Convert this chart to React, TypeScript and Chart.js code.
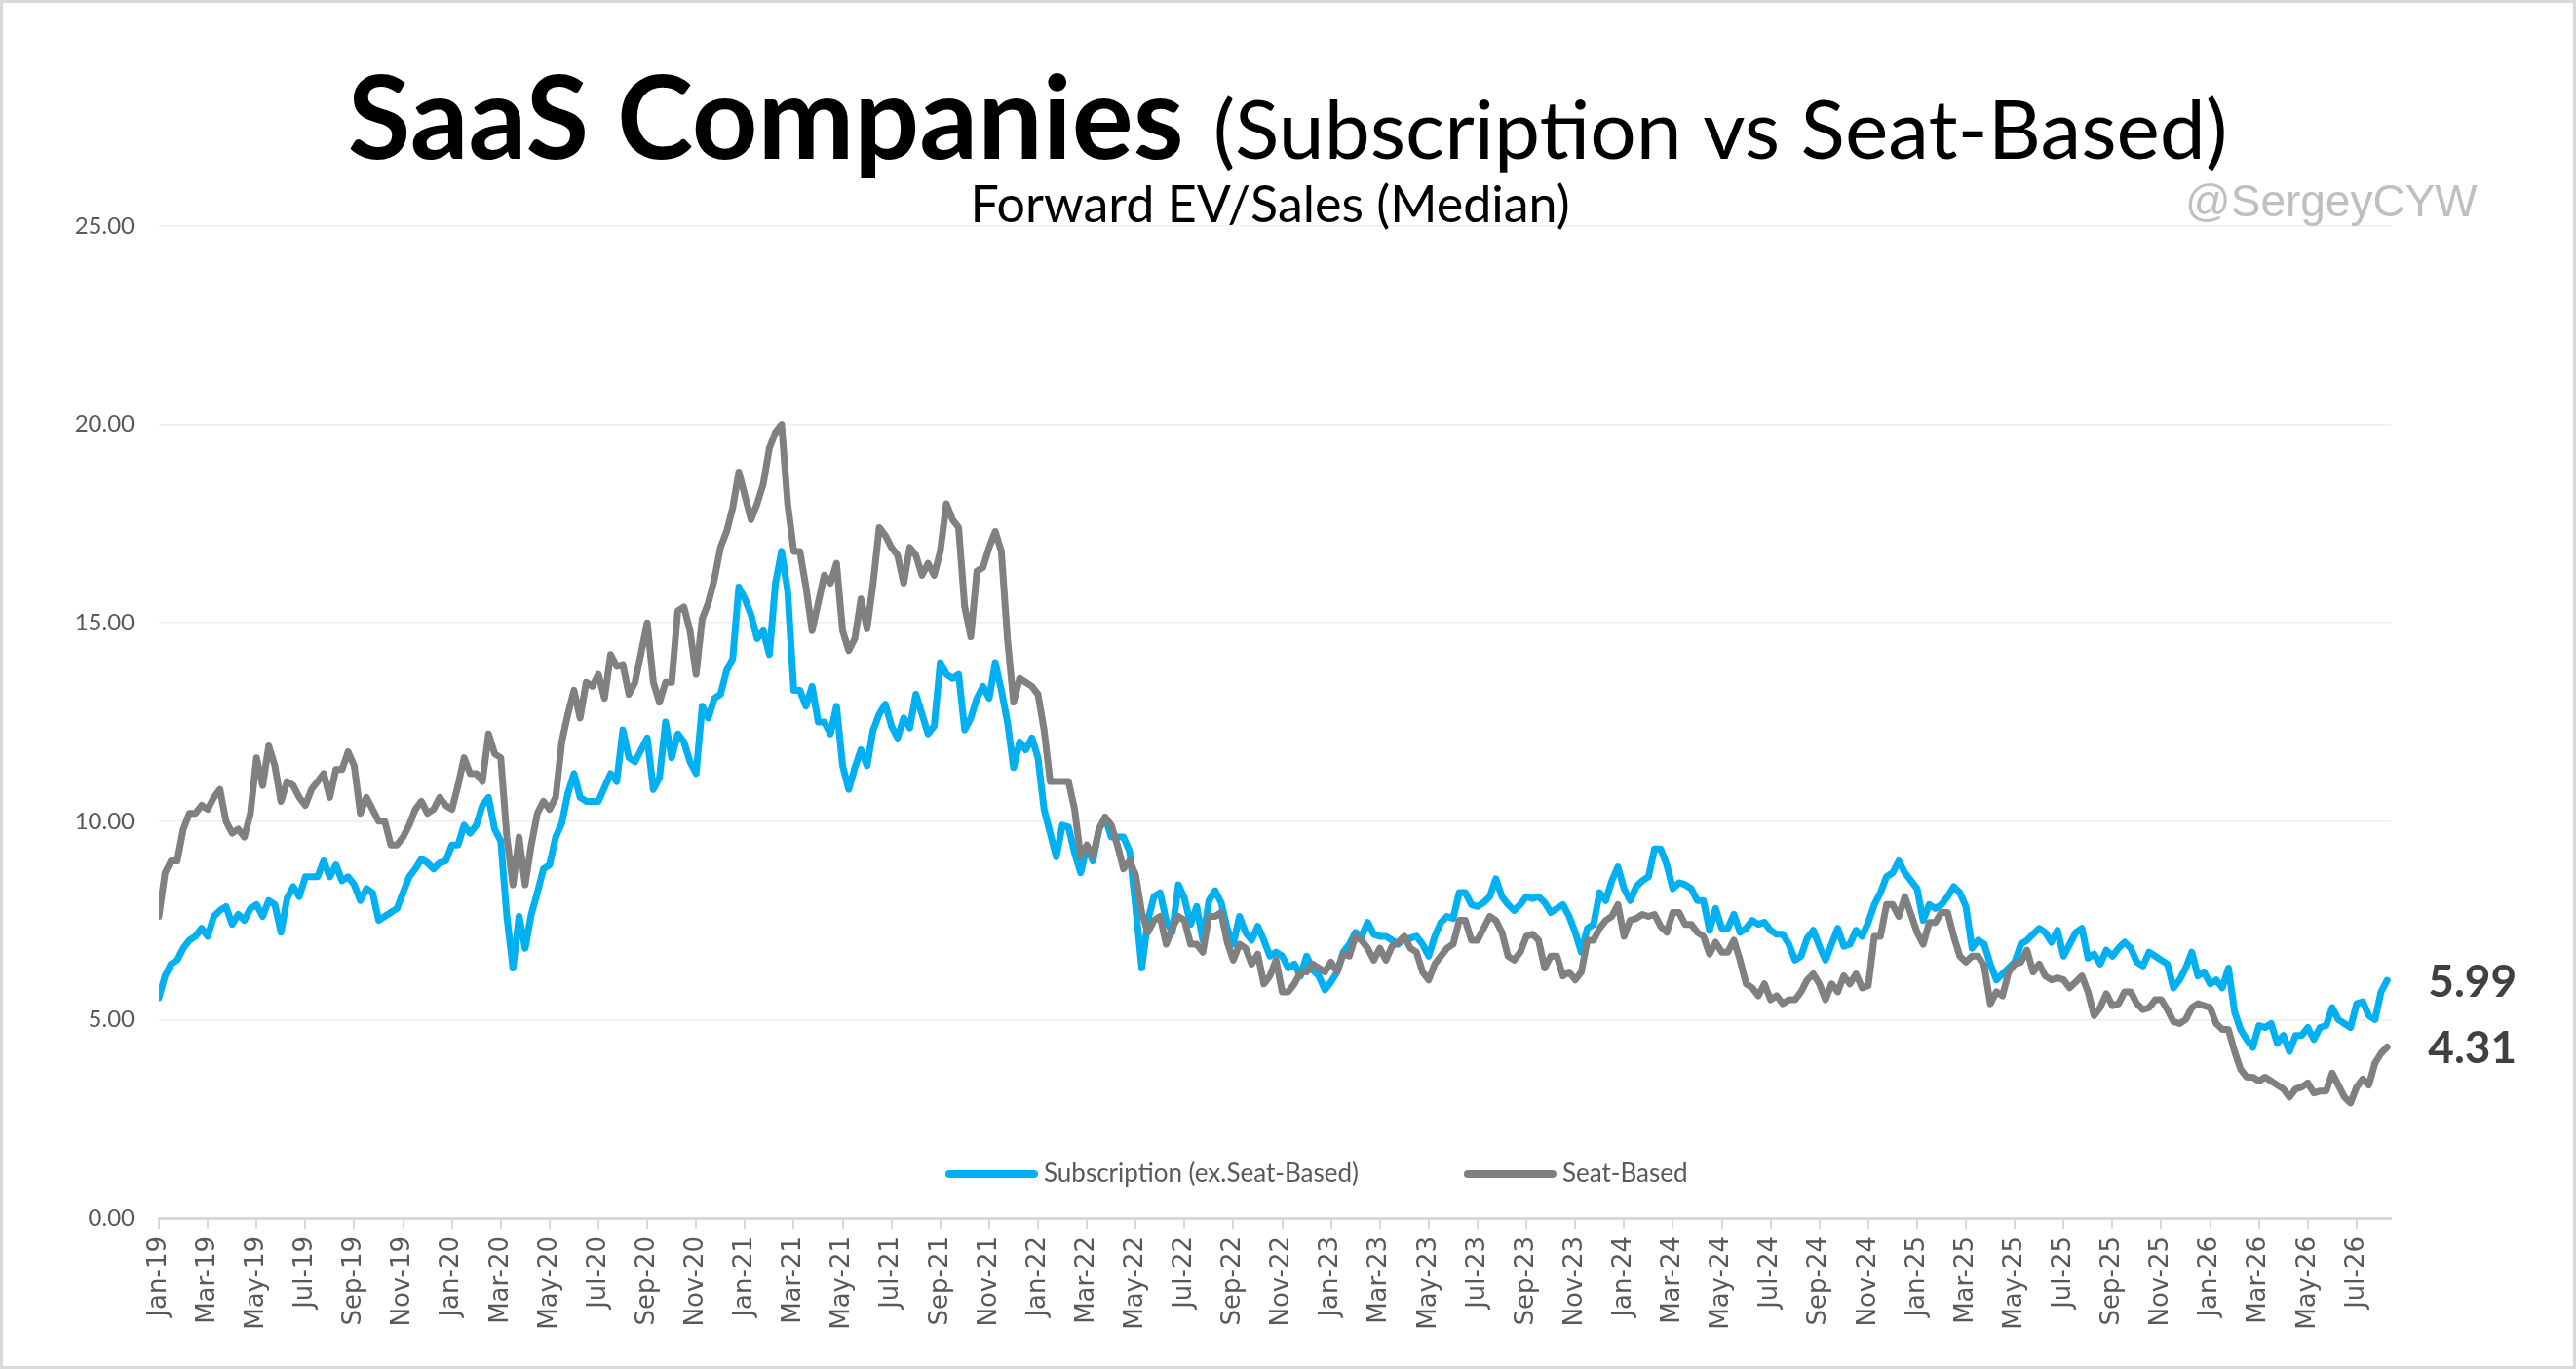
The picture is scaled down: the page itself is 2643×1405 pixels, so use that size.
import { useEffect, useRef } from "react";
import { Chart, registerables } from "chart.js";

Chart.register(...registerables);

// x axis: months counted from Jan-19, four readings per month
const MONTHS = ["Jan", "Feb", "Mar", "Apr", "May", "Jun", "Jul", "Aug", "Sep", "Oct", "Nov", "Dec"];
const START_YEAR = 19;
const STEPS_PER_MONTH = 4;
const X_MAX = 91.4;

const Y_MIN = 0;
const Y_MAX = 25;
const Y_STEP = 5;

const TITLE_MAIN = "SaaS Companies";
const TITLE_REST = "(Subscription vs Seat-Based)";
const SUBTITLE = "Forward EV/Sales (Median)";
const WATERMARK = "@SergeyCYW";

const SERIES_NAMES = ["Subscription (ex.Seat-Based)", "Seat-Based"];
const SERIES_COLORS = ["#00B0F0", "#808080"];

// Subscription (ex.Seat-Based), Jan-19 .. Aug-26
const subscription = [
  5.55, 6.1, 6.4, 6.5, 6.8, 7.0, 7.1, 7.3, 7.1, 7.6, 7.75, 7.85, 7.4, 7.65, 7.5, 7.8,
  7.9, 7.6, 8.0, 7.9, 7.2, 8.05, 8.35, 8.1, 8.6, 8.6, 8.6, 9.0, 8.6, 8.9, 8.5, 8.6,
  8.4, 8.0, 8.3, 8.2, 7.5, 7.6, 7.7, 7.8, 8.2, 8.6, 8.8, 9.05, 8.95, 8.8, 8.95, 9.0,
  // 2020
  9.4, 9.4, 9.9, 9.7, 9.9, 10.4, 10.6, 9.8, 9.5, 7.6, 6.3, 7.6, 6.8, 7.65, 8.2, 8.8,
  8.9, 9.6, 9.95, 10.7, 11.2, 10.6, 10.5, 10.5, 10.5, 10.85, 11.2, 11.0, 12.3, 11.6, 11.5, 11.8,
  12.1, 10.8, 11.1, 12.5, 11.6, 12.2, 12.0, 11.5, 11.2, 12.9, 12.6, 13.1, 13.2, 13.8, 14.1, 15.9,
  // 2021
  15.6, 15.2, 14.6, 14.8, 14.2, 16.0, 16.8, 15.8, 13.3, 13.3, 12.9, 13.4, 12.5, 12.5, 12.2, 12.9,
  11.4, 10.8, 11.35, 11.8, 11.4, 12.3, 12.7, 12.95, 12.4, 12.1, 12.6, 12.35, 13.2, 12.7, 12.2, 12.4,
  14.0, 13.7, 13.6, 13.7, 12.3, 12.6, 13.1, 13.4, 13.1, 14.0, 13.3, 12.5, 11.35, 12.0, 11.8, 12.1,
  // 2022
  11.6, 10.3, 9.7, 9.1, 9.9, 9.85, 9.2, 8.7, 9.35, 9.0, 9.8, 10.1, 9.6, 9.6, 9.6, 9.25,
  7.85, 6.3, 7.5, 8.1, 8.2, 7.5, 7.2, 8.4, 8.05, 7.4, 7.85, 7.0, 8.0, 8.25, 7.95, 7.3,
  6.9, 7.6, 7.2, 7.0, 7.35, 7.0, 6.6, 6.7, 6.6, 6.3, 6.4, 6.1, 6.6, 6.25, 6.1, 5.75,
  // 2023
  5.95, 6.2, 6.7, 6.9, 7.2, 7.1, 7.45, 7.15, 7.1, 7.1, 7.0, 6.9, 7.05, 7.05, 7.1, 6.9,
  6.6, 7.1, 7.45, 7.6, 7.55, 8.2, 8.2, 7.9, 7.85, 7.95, 8.1, 8.55, 8.1, 7.9, 7.75, 7.9,
  8.1, 8.05, 8.1, 7.95, 7.7, 7.8, 7.9, 7.6, 7.2, 6.7, 7.3, 7.4, 8.2, 8.0, 8.5, 8.85,
  // 2024
  8.3, 8.0, 8.35, 8.5, 8.6, 9.3, 9.3, 8.9, 8.3, 8.45, 8.4, 8.3, 8.0, 8.0, 7.25, 7.8,
  7.3, 7.3, 7.65, 7.2, 7.3, 7.5, 7.4, 7.45, 7.25, 7.15, 7.15, 6.9, 6.5, 6.6, 7.05, 7.25,
  6.85, 6.5, 6.9, 7.3, 6.85, 6.9, 7.25, 7.1, 7.45, 7.9, 8.2, 8.6, 8.7, 9.0, 8.7, 8.5,
  // 2025
  8.3, 7.5, 7.9, 7.8, 7.9, 8.1, 8.35, 8.2, 7.85, 6.8, 7.0, 6.9, 6.4, 6.0, 6.15, 6.3,
  6.45, 6.9, 7.0, 7.15, 7.3, 7.2, 6.95, 7.25, 6.6, 6.9, 7.2, 7.3, 6.55, 6.65, 6.4, 6.75,
  6.6, 6.8, 6.95, 6.8, 6.45, 6.35, 6.7, 6.6, 6.5, 6.4, 5.8, 6.0, 6.3, 6.7, 6.1, 6.2,
  // 2026
  5.9, 6.0, 5.8, 6.3, 5.2, 4.75, 4.5, 4.3, 4.85, 4.8, 4.9, 4.4, 4.6, 4.2, 4.6, 4.6,
  4.8, 4.5, 4.8, 4.85, 5.3, 5.0, 4.9, 4.8, 5.4, 5.45, 5.1, 5.0, 5.7, 5.99,
];

// Seat-Based, Jan-19 .. Aug-26
const seatBased = [
  7.6, 8.7, 9.0, 9.0, 9.8, 10.2, 10.2, 10.4, 10.3, 10.6, 10.8, 10.0, 9.7, 9.8, 9.6, 10.2,
  11.6, 10.9, 11.9, 11.4, 10.5, 11.0, 10.9, 10.6, 10.4, 10.8, 11.0, 11.2, 10.6, 11.3, 11.3, 11.75,
  11.4, 10.2, 10.6, 10.3, 10.0, 10.0, 9.4, 9.4, 9.6, 9.9, 10.3, 10.5, 10.2, 10.3, 10.6, 10.4,
  // 2020
  10.3, 10.9, 11.6, 11.2, 11.2, 11.0, 12.2, 11.7, 11.6, 9.6, 8.4, 9.6, 8.4, 9.4, 10.2, 10.5,
  10.3, 10.6, 12.0, 12.7, 13.3, 12.6, 13.5, 13.4, 13.7, 13.1, 14.2, 13.9, 13.95, 13.2, 13.5, 14.25,
  15.0, 13.5, 13.0, 13.5, 13.5, 15.3, 15.4, 14.8, 13.7, 15.1, 15.5, 16.1, 16.9, 17.3, 17.9, 18.8,
  // 2021
  18.2, 17.6, 18.0, 18.5, 19.4, 19.8, 20.0, 18.0, 16.8, 16.8, 15.9, 14.8, 15.5, 16.2, 16.0, 16.5,
  14.8, 14.3, 14.6, 15.6, 14.85, 16.0, 17.4, 17.2, 16.9, 16.7, 16.0, 16.9, 16.7, 16.2, 16.5, 16.2,
  16.8, 18.0, 17.6, 17.4, 15.4, 14.65, 16.3, 16.4, 16.9, 17.3, 16.8, 14.6, 13.0, 13.6, 13.5, 13.4,
  // 2022
  13.2, 12.3, 11.0, 11.0, 11.0, 11.0, 10.3, 9.1, 9.4, 9.1, 9.8, 10.1, 9.9, 9.4, 8.8, 9.0,
  8.65, 7.7, 7.2, 7.5, 7.6, 6.9, 7.3, 7.6, 7.5, 6.9, 6.9, 6.7, 7.6, 7.6, 7.7, 6.95,
  6.5, 6.9, 6.8, 6.4, 6.65, 5.9, 6.1, 6.5, 5.7, 5.7, 5.9, 6.2, 6.2, 6.4, 6.3, 6.2,
  // 2023
  6.45, 6.2, 6.65, 6.6, 7.1, 7.0, 6.8, 6.5, 6.8, 6.5, 6.85, 6.95, 7.1, 6.8, 6.7, 6.2,
  6.0, 6.4, 6.6, 6.8, 6.9, 7.5, 7.5, 7.0, 7.0, 7.3, 7.6, 7.5, 7.2, 6.6, 6.5, 6.7,
  7.1, 7.15, 7.0, 6.3, 6.6, 6.6, 6.1, 6.2, 6.0, 6.2, 7.0, 7.0, 7.3, 7.5, 7.6, 7.9,
  // 2024
  7.1, 7.5, 7.55, 7.65, 7.6, 7.65, 7.35, 7.2, 7.7, 7.7, 7.4, 7.4, 7.2, 7.1, 6.65, 6.95,
  6.7, 6.7, 7.0, 6.5, 5.9, 5.8, 5.6, 5.9, 5.5, 5.6, 5.4, 5.5, 5.5, 5.7, 6.0, 6.15,
  5.9, 5.5, 5.9, 5.7, 6.1, 5.9, 6.15, 5.8, 5.85, 7.1, 7.1, 7.9, 7.9, 7.6, 8.1, 7.65,
  // 2025
  7.2, 6.9, 7.45, 7.45, 7.7, 7.7, 7.1, 6.6, 6.45, 6.6, 6.6, 6.35, 5.4, 5.7, 5.6, 6.2,
  6.4, 6.45, 6.75, 6.2, 6.4, 6.1, 6.0, 6.05, 6.0, 5.8, 5.95, 6.1, 5.7, 5.1, 5.3, 5.65,
  5.35, 5.4, 5.7, 5.7, 5.4, 5.25, 5.3, 5.5, 5.5, 5.25, 4.95, 4.9, 5.0, 5.3, 5.4, 5.35,
  // 2026
  5.3, 4.9, 4.75, 4.75, 4.2, 3.75, 3.55, 3.55, 3.45, 3.55, 3.45, 3.35, 3.25, 3.05, 3.25, 3.3,
  3.4, 3.15, 3.2, 3.2, 3.65, 3.35, 3.05, 2.9, 3.3, 3.5, 3.35, 3.9, 4.15, 4.31,
];

const SERIES = [subscription, seatBased];

const monthLabel = (m: number) =>
  `${MONTHS[m % 12]}-${START_YEAR + Math.floor(m / 12)}`;

const toPoints = (values: number[]) =>
  values.map((v, i) => ({ x: i / STEPS_PER_MONTH, y: v }));

// title, subtitle, watermark, legend and end-of-line value labels
const decorations = {
  id: "decorations",
  afterDraw(chart: any) {
    const { ctx, chartArea } = chart;
    ctx.save();

    // title: bold part + regular part, one line
    const boldFont = "bold 118px Lato";
    const restFont = "84px Lato";
    ctx.font = boldFont;
    const w1 = ctx.measureText(TITLE_MAIN).width;
    ctx.font = restFont;
    const w2 = ctx.measureText(TITLE_REST).width;
    const gap = 30;
    const tx = 1318 - (w1 + gap + w2) / 2;
    ctx.fillStyle = "#000000";
    ctx.textAlign = "left";
    ctx.textBaseline = "alphabetic";
    ctx.font = boldFont;
    ctx.fillText(TITLE_MAIN, tx, 160);
    ctx.font = restFont;
    ctx.fillText(TITLE_REST, tx + w1 + gap, 160);

    ctx.font = "52px Lato";
    ctx.textAlign = "center";
    ctx.fillText(SUBTITLE, 1300, 225);

    ctx.font = '46px "Liberation Sans"';
    ctx.fillStyle = "#BFBFBF";
    ctx.textAlign = "left";
    ctx.fillText(WATERMARK, 2239, 219);

    // legend inside the plot, just above the x axis
    const ly = chartArea.bottom - 45;
    let lx = 967;
    ctx.font = "26px Lato";
    ctx.textBaseline = "middle";
    SERIES_NAMES.forEach((name, i) => {
      ctx.strokeStyle = SERIES_COLORS[i];
      ctx.lineWidth = 8;
      ctx.lineCap = "round";
      ctx.beginPath();
      ctx.moveTo(lx + 4, ly);
      ctx.lineTo(lx + 91, ly);
      ctx.stroke();
      ctx.fillStyle = "#595959";
      ctx.fillText(name, lx + 101, ly);
      lx += 101 + ctx.measureText(name).width + 108;
    });

    // last values at the right end of each line
    ctx.font = "bold 46px Lato";
    ctx.fillStyle = "#404040";
    ctx.textAlign = "left";
    ctx.textBaseline = "middle";
    chart.data.datasets.forEach((ds: any, i: number) => {
      const meta = chart.getDatasetMeta(i);
      const last = meta.data[meta.data.length - 1];
      const value = ds.data[ds.data.length - 1].y;
      ctx.fillText(value.toFixed(2), last.x + 42, last.y + 2);
    });

    ctx.restore();
  },
};

const SaasChart = () => {
  const canvasRef = useRef<HTMLCanvasElement>(null);
  const chartRef = useRef<Chart | null>(null);

  useEffect(() => {
    if (!canvasRef.current) return;
    const ctx = canvasRef.current.getContext("2d");
    if (!ctx) return;

    if (chartRef.current) chartRef.current.destroy();

    chartRef.current = new Chart(ctx, {
      type: "line",
      data: {
        datasets: SERIES.map((values, i) => ({
          label: SERIES_NAMES[i],
          data: toPoints(values),
          borderColor: SERIES_COLORS[i],
          backgroundColor: SERIES_COLORS[i],
          borderWidth: 7,
          pointRadius: 0,
          tension: 0,
          borderJoinStyle: "round" as const,
          borderCapStyle: "round" as const,
          order: i === 0 ? 1 : 0, // seat-based drawn on top
        })),
      },
      options: {
        animation: false,
        responsive: true,
        maintainAspectRatio: false,
        events: [],
        layout: { padding: { top: 229, left: 0, right: 187, bottom: 0 } },
        plugins: {
          legend: { display: false },
          title: { display: false },
          tooltip: { enabled: false },
        },
        scales: {
          x: {
            type: "linear",
            min: 0,
            max: X_MAX,
            offset: false,
            border: { display: true, color: "#D9D9D9", width: 3 },
            grid: {
              display: true,
              drawOnChartArea: false,
              drawTicks: true,
              tickLength: 11,
              color: "#D9D9D9",
              lineWidth: 2,
            },
            ticks: {
              stepSize: 2,
              includeBounds: false,
              autoSkip: false,
              minRotation: 90,
              maxRotation: 90,
              padding: 8,
              color: "#595959",
              font: { family: "'DejaVu Sans'", size: 26 },
              callback: (v: any) => (Number.isInteger(v) ? monthLabel(v) : ""),
            },
            afterFit: (s: any) => {
              s.height = 152;
              s.paddingLeft = 0;
              s.paddingRight = 0;
            },
          },
          y: {
            min: Y_MIN,
            max: Y_MAX,
            border: { display: false },
            grid: { color: "#EDEDED", lineWidth: 1.5, drawTicks: false },
            ticks: {
              stepSize: Y_STEP,
              padding: 25,
              color: "#595959",
              font: { family: "Lato", size: 24 },
              callback: (v: any) => Number(v).toFixed(2),
            },
            afterFit: (s: any) => {
              s.width = 160;
              s.paddingTop = 0;
              s.paddingBottom = 0;
            },
          },
        },
      },
      plugins: [decorations],
    });

    return () => {
      if (chartRef.current) {
        chartRef.current.destroy();
        chartRef.current = null;
      }
    };
  }, []);

  return (
    <div
      style={{
        position: "fixed",
        left: 0,
        top: 0,
        width: 2643,
        height: 1405,
        boxSizing: "border-box",
        border: "3px solid #D9D9D9",
        background: "#ffffff",
      }}
    >
      <div style={{ position: "relative", width: 2637, height: 1399 }}>
        <canvas ref={canvasRef}></canvas>
      </div>
    </div>
  );
};

export default function App() {
  return <SaasChart />;
}
